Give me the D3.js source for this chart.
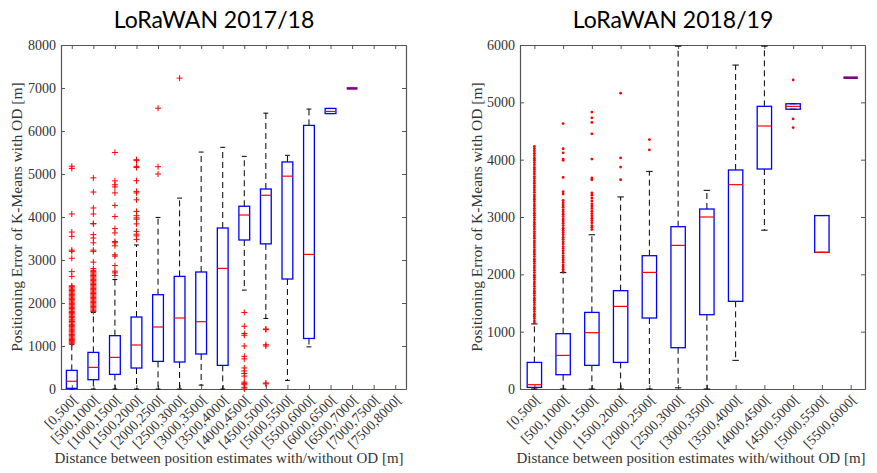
<!DOCTYPE html>
<html>
<head>
<meta charset="utf-8">
<script src="https://cdn.jsdelivr.net/npm/d3@7"></script>
<style>
body { margin: 0; background: #fff; }
</style>
</head>
<body>
<svg id="chart" width="877" height="473"></svg>
<script>
// ---- LoRaWAN 2017/18 ----
const leftCategories = ["[0,500[", "[500,1000[", "[1000,1500[", "[1500,2000[", "[2000,2500[", "[2500,3000[",
    "[3000,3500[", "[3500,4000[", "[4000,4500[", "[4500,5000[", "[5000,5500[", "[5500,6000[",
    "[6000,6500[", "[6500,7000[", "[7000,7500[", "[7500,8000["];
const leftLower  = [0, 0, 0, 0, 0, 0, 90, 0, 2300, 1640, 200, 980, 6405, 6990, null, null];
const leftQ1     = [15, 216, 340, 488, 642, 628, 814, 549, 3465, 3375, 2558, 1175, 6405, 6990, null, null];
const leftMedian = [180, 503, 735, 1023, 1442, 1651, 1565, 2805, 4046, 4505, 4950, 3130, 6455, 6990, null, null];
const leftQ3     = [433, 851, 1240, 1674, 2193, 2619, 2721, 3744, 4250, 4651, 5280, 6130, 6525, 6990, null, null];
const leftUpper  = [1040, 1780, 2545, 3350, 3990, 4440, 5510, 5620, 5410, 6415, 5435, 6510, 6525, 6990, null, null];
const leftOutliers = [
    [1050, 1075, 1100, 1130, 1150, 1180, 1210, 1240, 1265, 1300, 1330, 1355, 1390, 1420, 1450, 1480, 1505,
     1540, 1570, 1600, 1625, 1660, 1690, 1720, 1750, 1780, 1805, 1840, 1870, 1900, 1930, 1960, 1985, 2020,
     2050, 2080, 2110, 2140, 2170, 2200, 2230, 2260, 2290, 2320, 2350, 2380, 2400, 2620, 2730, 3040, 3200,
     3230, 3550, 3650, 4070, 5130, 5180],
    [1800, 1830, 1860, 1890, 1920, 1950, 1980, 2010, 2040, 2070, 2100, 2130, 2160, 2190, 2220, 2250, 2280,
     2310, 2340, 2370, 2400, 2430, 2460, 2490, 2520, 2550, 2580, 2610, 2640, 2670, 2700, 2730, 2760, 2800,
     2950, 3200, 3230, 3400, 3510, 3590, 3840, 3850, 4070, 4210, 4580, 4910],
    [2640, 2700, 2740, 2870, 3090, 3120, 3330, 3400, 3430, 3630, 3730, 4010, 4270, 4560, 4700, 4750, 4840, 5500],
    [3480, 3560, 3600, 3665, 3840, 3950, 3980, 4030, 4130, 4400, 4560, 4595, 4844, 5150, 5178, 5310, 5333],
    [5000, 5170, 6530],
    [7230],
    [], [],
    [0, 40, 100, 130, 160, 300, 360, 420, 490, 700, 760, 1000, 1250, 1290, 1460, 1780],
    [120, 140, 1000, 1030, 1380, 1395],
    [], [], [], [], [], []
];

// ---- LoRaWAN 2018/19 ----
const rightCategories = ["[0,500[", "[500,1000[", "[1000,1500[", "[1500,2000[", "[2000,2500[", "[2500,3000[",
    "[3000,3500[", "[3500,4000[", "[4000,4500[", "[4500,5000[", "[5000,5500[", "[5500,6000["];
const rightLower  = [0, 0, 0, 0, 0, 20, 0, 500, 2770, 4880, 2383, 5430];
const rightQ1     = [28, 249, 412, 464, 1238, 720, 1296, 1529, 3837, 4880, 2383, 5430];
const rightMedian = [75, 586, 982, 1441, 2034, 2505, 3000, 3564, 4587, 4930, 2383, 5430];
const rightQ3     = [464, 965, 1336, 1715, 2325, 2831, 3139, 3820, 4930, 4975, 3025, 5430];
const rightUpper  = [1135, 2030, 2690, 3350, 3796, 5980, 3465, 5650, 5980, 4975, 3025, 5430];
const rightOutliers = [
    [1150, 1185, 1230, 1270, 1305, 1350, 1390, 1425, 1470, 1510, 1550, 1585, 1630, 1670, 1705, 1750, 1790,
     1830, 1865, 1910, 1950, 1985, 2030, 2070, 2110, 2145, 2190, 2230, 2265, 2310, 2350, 2390, 2425, 2470,
     2510, 2550, 2585, 2630, 2670, 2710, 2745, 2790, 2830, 2870, 2905, 2950, 2990, 3030, 3065, 3110, 3150,
     3190, 3225, 3270, 3310, 3350, 3385, 3430, 3470, 3510, 3545, 3590, 3630, 3670, 3705, 3750, 3790, 3830,
     3865, 3910, 3950, 3990, 4025, 4070, 4110, 4150, 4190, 4230],
    [2050, 2090, 2130, 2165, 2210, 2250, 2290, 2325, 2370, 2410, 2450, 2485, 2530, 2570, 2610, 2645, 2690,
     2730, 2770, 2805, 2850, 2890, 2930, 2965, 3010, 3050, 3090, 3125, 3170, 3210, 3250, 3290,
     3400, 3440, 3690, 3990, 4010, 4120, 4190, 4630],
    [2780, 2820, 2850, 2900, 2940, 2980, 3020, 3060, 3100, 3150, 3190, 3230, 3280, 3330, 3380, 3420,
     3650, 3680, 4010, 4450, 4650, 4730, 4830],
    [3650, 3870, 4030, 5160],
    [4170, 4350],
    [], [], [], [],
    [4560, 4710, 5390],
    [], []
];

const leftTicks = [0, 1000, 2000, 3000, 4000, 5000, 6000, 7000, 8000];
const rightTicks = [0, 1000, 2000, 3000, 4000, 5000, 6000];

const serif = "'Liberation Serif', 'Times New Roman', serif";
const svg = d3.select("#chart");

function drawPanel(p) {
    const x = d3.scalePoint().domain(p.categories).range([p.left, p.right]).padding(0.5);
    const y = d3.scaleLinear().domain([0, p.yMax]).range([p.bottom, p.top]);
    const bw = x.step() * 0.5;
    const capW = bw * 0.45;
    const g = svg.append("g");

    // frame and inward ticks
    const bottomAxis = g.append("g")
        .attr("transform", `translate(0,${p.bottom})`)
        .call(d3.axisBottom(x).tickSize(-4).tickSizeOuter(0));
    bottomAxis.selectAll("text")
        .attr("y", 0).attr("dy", "0.35em")
        .attr("text-anchor", "end")
        .attr("transform", "translate(3,8) rotate(-45)");
    g.append("g")
        .attr("transform", `translate(0,${p.top})`)
        .call(d3.axisTop(x).tickSize(-4).tickSizeOuter(0).tickFormat(""));
    g.append("g")
        .attr("transform", `translate(${p.left},0)`)
        .call(d3.axisLeft(y).tickValues(p.ticks).tickSize(-4).tickSizeOuter(0).tickPadding(5).tickFormat(d3.format("d")));
    g.append("g")
        .attr("transform", `translate(${p.right},0)`)
        .call(d3.axisRight(y).tickValues(p.ticks).tickSize(-4).tickSizeOuter(0).tickFormat(""));
    g.selectAll(".domain").attr("stroke", "#555").attr("stroke-width", 1.2);
    g.selectAll(".tick line").attr("stroke", "#555");
    g.selectAll(".tick text")
        .style("font-family", serif).style("font-size", "14px").style("fill", "#333");

    p.categories.forEach((c, i) => {
        if (p.q1[i] == null) return;
        const cx = x(c);
        // whiskers
        [[p.q3[i], p.upper[i]], [p.q1[i], p.lower[i]]].forEach(([a, b]) => {
            if (a !== b) {
                g.append("line")
                    .attr("x1", cx).attr("x2", cx)
                    .attr("y1", y(a)).attr("y2", y(b))
                    .attr("stroke", "#000").attr("stroke-width", 1)
                    .attr("stroke-dasharray", "6,4");
            }
            g.append("line")
                .attr("x1", cx - capW / 2).attr("x2", cx + capW / 2)
                .attr("y1", y(b)).attr("y2", y(b))
                .attr("stroke", "#000").attr("stroke-width", 1);
        });
        // box
        g.append("rect")
            .attr("x", cx - bw / 2).attr("width", bw)
            .attr("y", y(p.q3[i])).attr("height", y(p.q1[i]) - y(p.q3[i]))
            .attr("fill", "none").attr("stroke", "#0000ff").attr("stroke-width", 1.3);
        // median
        const flat = p.q1[i] === p.q3[i];
        g.append("line")
            .attr("x1", cx - bw / 2).attr("x2", cx + bw / 2)
            .attr("y1", y(p.median[i])).attr("y2", y(p.median[i]))
            .attr("stroke", flat ? "#80007f" : "#ff0000")
            .attr("stroke-width", flat ? 2.6 : 1.2);
        // outliers
        p.outliers[i].forEach(v => {
            if (p.marker === "plus") {
                g.append("path")
                    .attr("d", `M${cx - 3},${y(v)}H${cx + 3}M${cx},${y(v) - 3}V${y(v) + 3}`)
                    .attr("stroke", "#ff0000").attr("stroke-width", 1);
            } else {
                g.append("circle")
                    .attr("cx", cx).attr("cy", y(v)).attr("r", 1.4)
                    .attr("fill", "#ff0000");
            }
        });
    });

    g.append("text")
        .attr("x", p.titleX).attr("y", 28)
        .attr("text-anchor", "middle")
        .style("font-family", "Lato, 'Open Sans', sans-serif").style("font-size", "23px").style("fill", "#000")
        .text(p.title);
    g.append("text")
        .attr("transform", `translate(${p.yLabelX},${(p.top + p.bottom) / 2}) rotate(-90)`)
        .attr("text-anchor", "middle")
        .style("font-family", serif).style("font-size", "15.5px").style("fill", "#333")
        .text("Positioning Error of K-Means with OD [m]");
    g.append("text")
        .attr("x", p.xLabelX).attr("y", 463)
        .attr("text-anchor", "middle")
        .style("font-family", serif).style("font-size", "15px").style("fill", "#333")
        .text("Distance between position estimates with/without OD [m]");
}

drawPanel({
    categories: leftCategories, lower: leftLower, q1: leftQ1, median: leftMedian, q3: leftQ3,
    upper: leftUpper, outliers: leftOutliers, ticks: leftTicks, yMax: 8000, marker: "plus",
    left: 61, right: 406, top: 45, bottom: 389,
    title: "LoRaWAN 2017/18", titleX: 214, yLabelX: 22, xLabelX: 229
});
drawPanel({
    categories: rightCategories, lower: rightLower, q1: rightQ1, median: rightMedian, q3: rightQ3,
    upper: rightUpper, outliers: rightOutliers, ticks: rightTicks, yMax: 6000, marker: "dot",
    left: 520, right: 865, top: 45, bottom: 389,
    title: "LoRaWAN 2018/19", titleX: 673, yLabelX: 482, xLabelX: 691
});
</script>
</body>
</html>
